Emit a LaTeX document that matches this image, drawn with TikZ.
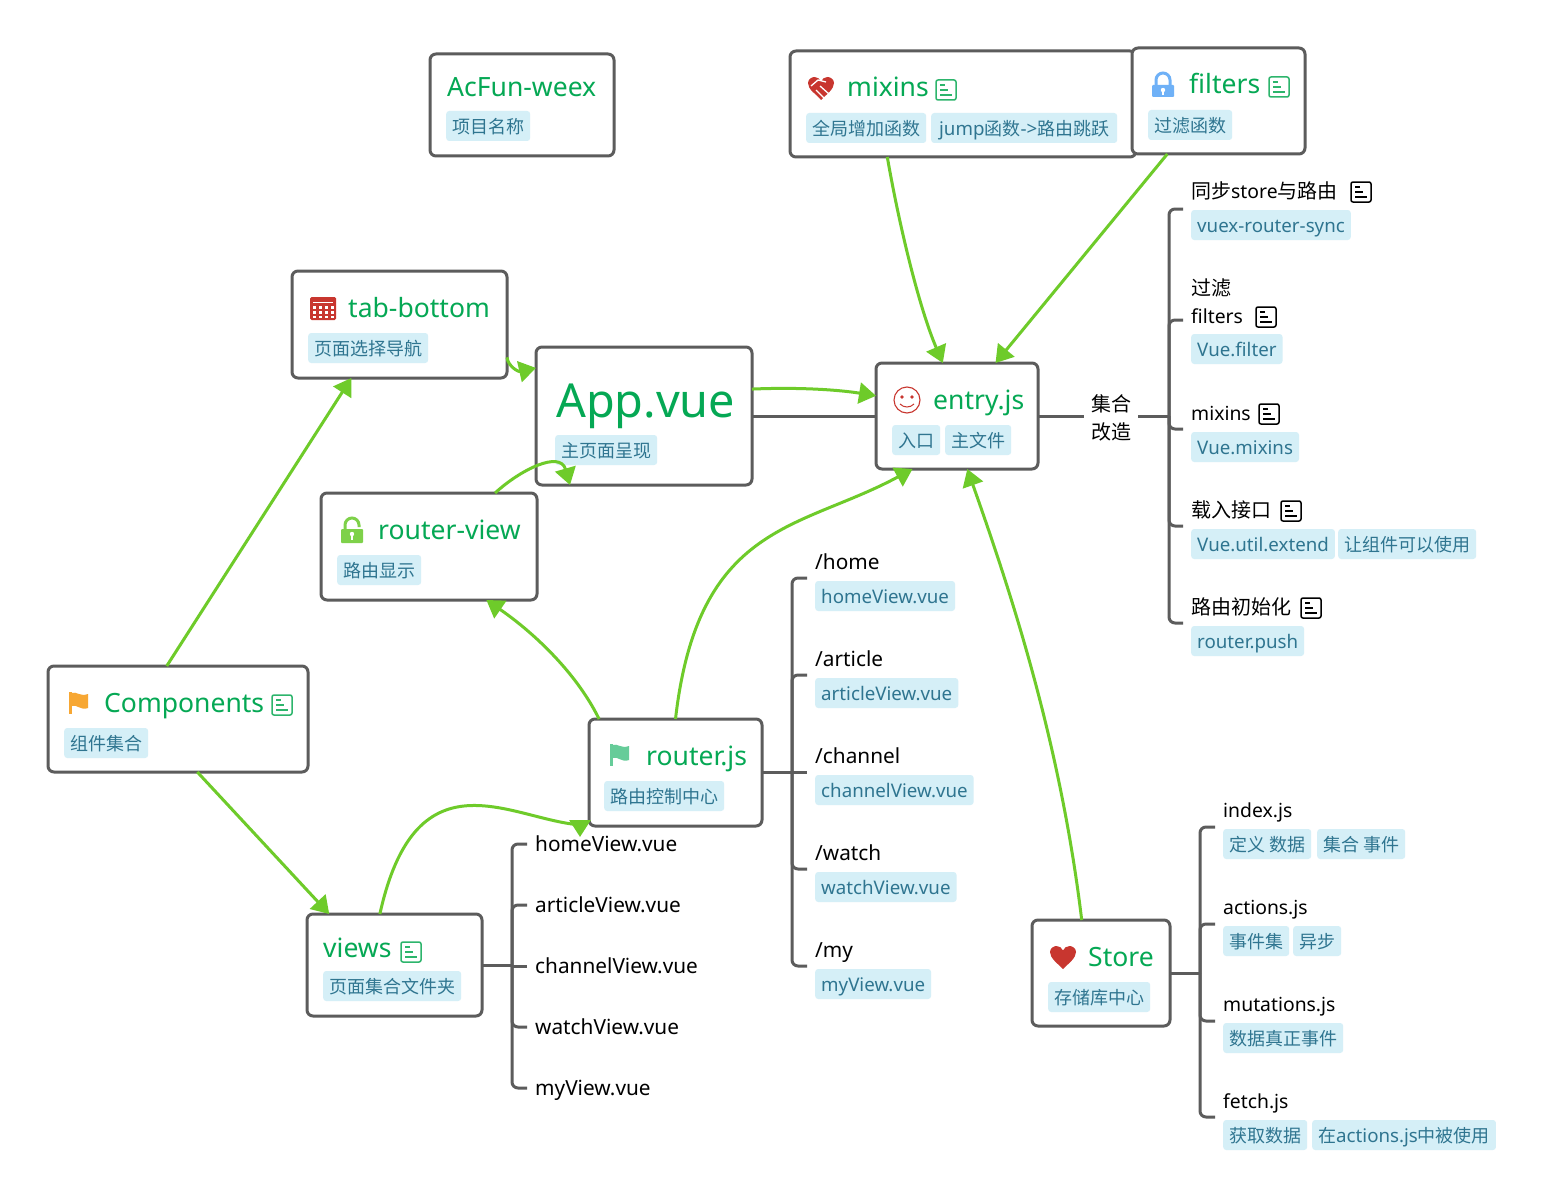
\documentclass[tikz,border=0pt]{standalone}
\usepackage{fontspec}
\usepackage{xcolor}
\setmainfont[Scale=1.04]{Noto Sans}
\newfontfamily\cjk{Noto Sans CJK SC}
\usetikzlibrary{arrows.meta}
\newcommand{\zh}[1]{{\cjk #1}}
\newcommand{\zhb}[1]{{\cjk\fontsize{20}{28}\selectfont #1}}
\definecolor{boxgray}{HTML}{5C5C5C}
\definecolor{linkgreen}{HTML}{6ECB2A}
\definecolor{titlegreen}{HTML}{05A854}
\definecolor{notegreen}{HTML}{2DB56C}
\definecolor{chipblue}{HTML}{D5EFF7}
\definecolor{chiptext}{HTML}{2F7590}
\definecolor{iconred}{HTML}{C8362F}
\definecolor{iconorange}{HTML}{F7A733}
\definecolor{iconteal}{HTML}{66CC99}
\definecolor{iconblue}{HTML}{6FB1F7}
\definecolor{iconlime}{HTML}{7ED14A}
\tikzset{
    topicbox/.style={draw=boxgray, fill=white, line width=3pt, rounded corners=6pt, inner sep=0pt, outer sep=0pt},
    title/.style={anchor=west, inner sep=0pt, text=titlegreen, text height=18pt, text depth=0pt, font=\fontsize{25.5}{30}\selectfont},
    chip/.style={anchor=west, fill=chipblue, text=chiptext, rounded corners=3pt, inner xsep=6pt, inner ysep=7.5pt, text height=15pt, text depth=0pt, font=\fontsize{18}{22}\selectfont},
    leaf/.style={anchor=west, inner xsep=8pt, inner ysep=0pt, text height=14pt, text depth=0pt, font=\fontsize{18.6}{28}\selectfont},
    wideleaf/.style={leaf, font=\fontsize{20}{28}\selectfont},
    branch/.style={draw=boxgray, line width=3pt, rounded corners=6pt},
    link/.style={draw=linkgreen, line width=3pt, -{Triangle[length=17pt,width=21pt]}},
    notemark/.pic={
        \draw[pic actions, line width=1.5pt, rounded corners=2pt] (-10,-10) rectangle (10,10);
        \draw[pic actions, line width=1.5pt] (-6,-5) -- (-1,-5) (-6,0) -- (2,0) (-6,5) -- (6,5);
    },
    heartmark/.pic={
        \fill[pic actions] (0,12) .. controls (-6,6) and (-13,1) .. (-13,-5) .. controls (-13,-9) and (-9,-11) .. (-6.5,-11)
            .. controls (-3.5,-11) and (-1,-9) .. (0,-6.5) .. controls (1,-9) and (3.5,-11) .. (6.5,-11)
            .. controls (9,-11) and (13,-9) .. (13,-5) .. controls (13,1) and (6,6) .. (0,12) -- cycle;
    },
    flagmark/.pic={
        \fill[pic actions] (-10,-11) rectangle (-7,11);
        \fill[pic actions] (-7,-10) .. controls (-3,-12) and (1,-6) .. (9,-9) -- (9,5) .. controls (2,8) and (-2,1) .. (-7,3) -- cycle;
    },
}

\begin{document}
\begin{tikzpicture}[x=1pt, y=-1pt]
    \useasboundingbox[fill=white] (0,0) rectangle (1561,1204);

    % topic boxes
    \node[topicbox, minimum width=184pt, minimum height=102pt] (acfun) at (522,105) {};
    \node[topicbox, minimum width=346pt, minimum height=106pt] (mixins) at (963,104) {};
    \node[topicbox, minimum width=173pt, minimum height=106pt] (filters) at (1218.5,101) {};
    \node[topicbox, minimum width=215pt, minimum height=107pt] (tabbar) at (399.5,324.5) {};
    \node[topicbox, minimum width=216pt, minimum height=138pt] (appvue) at (644,416) {};
    \node[topicbox, minimum width=162pt, minimum height=106pt] (entry) at (957,416) {};
    \node[topicbox, minimum width=216pt, minimum height=107pt] (rview) at (429,546.5) {};
    \node[topicbox, minimum width=260pt, minimum height=106pt] (comps) at (178,719) {};
    \node[topicbox, minimum width=173pt, minimum height=107pt] (rjs) at (675.5,772.5) {};
    \node[topicbox, minimum width=175pt, minimum height=102pt] (views) at (394.5,965) {};
    \node[topicbox, minimum width=138pt, minimum height=106pt] (store) at (1101,973) {};

    % titles and chips in the boxes
    \node[title] (acfuntitle) at (447,88) {AcFun-weex};
    \node[chip] (acfunchip) at (446,126) {\zh{项目名称}};

    \node[title] (mixinstitle) at (847,88) {mixins};
    \node[chip] (mixinschipa) at (806,128) {\zh{全局增加函数}};
    \node[chip, minimum width=186pt] (mixinschipb) at (931,128) {jump\zh{函数}->\zh{路由跳跃}};

    \node[title] (filterstitle) at (1189,85) {filters};
    \node[chip] (filterschip) at (1148,125) {\zh{过滤函数}};

    \node[title] (tabtitle) at (348,308) {tab-bottom};
    \node[chip] (tabchip) at (308,348) {\zh{页面选择导航}};

    \node[title, text height=34pt, font=\fontsize{45}{50}\selectfont] (apptitle) at (556,400) {App.vue};
    \node[chip] (appchip) at (555,450) {\zh{主页面呈现}};

    \node[title] (entrytitle) at (933,400) {entry.js};
    \node[chip] (entrychipa) at (892,440) {\zh{入口}};
    \node[chip] (entrychipb) at (945,440) {\zh{主文件}};

    \node[title] (rviewtitle) at (378,530) {router-view};
    \node[chip] (rviewchip) at (337,570) {\zh{路由显示}};

    \node[title] (compstitle) at (104,703) {Components};
    \node[chip] (compschip) at (64,743) {\zh{组件集合}};

    \node[title] (rjstitle) at (646,756) {router.js};
    \node[chip] (rjschip) at (604,796) {\zh{路由控制中心}};

    \node[title] (viewstitle) at (323,948) {views};
    \node[chip] (viewschip) at (323,986) {\zh{页面集合文件夹}};

    \node[title] (storetitle) at (1088,957) {Store};
    \node[chip] (storechip) at (1048,997) {\zh{存储库中心}};

    % icons
    \pic[draw=notegreen] at (946,90) {notemark};
    \pic[draw=notegreen] at (1279,87) {notemark};
    \pic[draw=notegreen] at (282,705) {notemark};
    \pic[draw=notegreen] at (411,952) {notemark};
    \pic[draw=black] at (1361,192) {notemark};
    \pic[draw=black] at (1266,317) {notemark};
    \pic[draw=black] at (1269,414) {notemark};
    \pic[draw=black] at (1291,511) {notemark};
    \pic[draw=black] at (1311,608) {notemark};

    \pic[fill=iconred] at (1063,957) {heartmark};
    \pic[fill=iconred] at (821,88) {heartmark};
    \draw[white, line width=1.3pt] (811,86) -- (818,80) -- (826,82) (816,90) -- (824,98) (820,86) -- (829,94) (813,93) -- (820,100);
    \pic[fill=iconorange] at (79,703) {flagmark};
    \pic[fill=iconteal] at (620,755) {flagmark};

    % closed lock
    \draw[iconblue, line width=3pt] (1156,86) -- (1156,80) arc (180:360:7) -- (1170,86);
    \fill[iconblue, rounded corners=1pt] (1152,85) rectangle (1174,97);
    \fill[white] (1163,90) circle (2.2pt);
    \fill[white] (1162,90) rectangle (1164,95);
    % open lock
    \draw[iconlime, line width=3pt] (345,530) -- (345,525) arc (180:360:7) -- (359,527);
    \fill[iconlime, rounded corners=1pt] (341,529) rectangle (363,543);
    \fill[white] (352,534) circle (2.2pt);
    \fill[white] (351,534) rectangle (353,540);
    % calendar
    \fill[iconred, rounded corners=1.5pt] (310,297) rectangle (336,320);
    \fill[white] (313,302) rectangle (333,303);
    \foreach \cx in {313,319,325,331}{
        \fill[white] (\cx,305.5) rectangle ++(2.8,3);
        \fill[white] (\cx,310.5) rectangle ++(2.8,3);
        \fill[white] (\cx,315.5) rectangle ++(2.8,2.5);
    }
    % smiley
    \draw[iconred, line width=1.1pt] (907,400) circle (13pt);
    \fill[iconred] (902,397) circle (1.8pt) (912,397) circle (1.8pt);
    \draw[iconred, line width=1pt] (900,404) .. controls (904,408) and (910,408) .. (914,404);

    % entry branches
    \node[inner xsep=7pt, inner ysep=0pt, align=center, font=\fontsize{20}{28}\selectfont] (gather) at (1111,418) {\zhb{集合}\\\zhb{改造}};
    \node[leaf] (synctitle) at (1183,191) {\zhb{同步}store\zhb{与路由}};
    \node[chip] (syncchip) at (1191,225) {vuex-router-sync};
    \node[anchor=west, inner xsep=8pt, inner ysep=0pt, align=left, font=\fontsize{18.6}{28}\selectfont] (filtertitle) at (1183,301) {\zhb{过滤}\\filters};
    \node[chip] (filterchip) at (1191,349) {Vue.filter};
    \node[leaf] (mixintitle) at (1183,413) {mixins};
    \node[chip] (mixinchip) at (1191,447) {Vue.mixins};
    \node[leaf] (loadtitle) at (1183,510) {\zhb{载入接口}};
    \node[chip] (loadchipa) at (1191,544) {Vue.util.extend};
    \node[chip] (loadchipb) at (1338,544) {\zh{让组件可以使用}};
    \node[leaf] (inittitle) at (1183,607) {\zhb{路由初始化}};
    \node[chip] (initchip) at (1191,641) {router.push};

    \coordinate (entrytrunk) at (1169,416);
    \coordinate (syncend) at (1183,209);
    \coordinate (filterend) at (1183,320);
    \coordinate (mixinend) at (1183,429);
    \coordinate (loadend) at (1183,526);
    \coordinate (initend) at (1183,623);
    \draw[branch] (appvue.east) -- (entry.west);
    \draw[branch] (entry.east) -- (gather.west |- entry.east);
    \draw[branch] (gather.east |- entrytrunk) -- (entrytrunk);
    \draw[branch] (syncend) -| (entrytrunk) |- (initend);
    \draw[branch] (filterend) -| (entrytrunk);
    \draw[branch] (mixinend) -| (entrytrunk);
    \draw[branch] (loadend) -| (entrytrunk);

    % router branches
    \node[wideleaf] (hometitle) at (807,562) {/home};
    \node[chip] (homechip) at (815,596) {homeView.vue};
    \node[wideleaf] (articletitle) at (807,659) {/article};
    \node[chip] (articlechip) at (815,693) {articleView.vue};
    \node[wideleaf] (channeltitle) at (807,756) {/channel};
    \node[chip] (channelchip) at (815,790) {channelView.vue};
    \node[wideleaf] (watchtitle) at (807,853) {/watch};
    \node[chip] (watchchip) at (815,887) {watchView.vue};
    \node[wideleaf] (mytitle) at (807,950) {/my};
    \node[chip] (mychip) at (815,984) {myView.vue};

    \coordinate (rjstrunk) at (792,772.5);
    \coordinate (homeend) at (807,578);
    \coordinate (articleend) at (807,675);
    \coordinate (channelend) at (807,772.5);
    \coordinate (watchend) at (807,869);
    \coordinate (myend) at (807,966);
    \draw[branch] (rjs.east) -- (channelend);
    \draw[branch] (homeend) -| (rjstrunk) |- (myend);
    \draw[branch] (articleend) -| (rjstrunk);
    \draw[branch] (watchend) -| (rjstrunk);

    % views branches
    \node[wideleaf] (homeview) at (527,844) {homeView.vue};
    \node[wideleaf] (articleview) at (527,905) {articleView.vue};
    \node[wideleaf] (channelview) at (527,966) {channelView.vue};
    \node[wideleaf] (watchview) at (527,1027) {watchView.vue};
    \node[wideleaf] (myview) at (527,1088) {myView.vue};

    \coordinate (viewstrunk) at (512,966);
    \draw[branch] (views.east) -- (views.east -| viewstrunk);
    \draw[branch] (homeview.west) -| (viewstrunk) |- (myview.west);
    \draw[branch] (articleview.west) -| (viewstrunk);
    \draw[branch] (channelview.west) -- (viewstrunk);
    \draw[branch] (watchview.west) -| (viewstrunk);

    % store branches
    \node[leaf] (indextitle) at (1215,810) {index.js};
    \node[chip] (indexchipa) at (1223,844) {\zh{定义 数据}};
    \node[chip] (indexchipb) at (1317,844) {\zh{集合 事件}};
    \node[leaf] (actiontitle) at (1215,907) {actions.js};
    \node[chip] (actionchipa) at (1223,941) {\zh{事件集}};
    \node[chip] (actionchipb) at (1293,941) {\zh{异步}};
    \node[leaf] (mutatetitle) at (1215,1004) {mutations.js};
    \node[chip] (mutatechip) at (1223,1038) {\zh{数据真正事件}};
    \node[leaf] (fetchtitle) at (1215,1101) {fetch.js};
    \node[chip] (fetchchipa) at (1223,1135) {\zh{获取数据}};
    \node[chip] (fetchchipb) at (1312,1135) {\zh{在}actions.js\zh{中被使用}};

    \coordinate (storetrunk) at (1200,973);
    \coordinate (indexend) at (1215,827);
    \coordinate (actionend) at (1215,924);
    \coordinate (mutateend) at (1215,1021);
    \coordinate (fetchend) at (1215,1117);
    \draw[branch] (store.east) -- (storetrunk);
    \draw[branch] (indexend) -| (storetrunk) |- (fetchend);
    \draw[branch] (actionend) -| (storetrunk);
    \draw[branch] (mutateend) -| (storetrunk);

    % green links
    \coordinate (rjstip) at (580,837);
    \draw[link] (comps.102.8) -- (tabbar.228.9);
    \draw[link] (comps.-70) -- (views.142.4);
    \draw[link] (views.106.6) .. controls (415,755) and (505,815) .. (572,824) .. controls (577,825) and (580,826) .. (rjstip);
    \draw[link] (rjs.145.6) .. controls (575,670) and (530,630) .. (rview.-43.2);
    \draw[link] (rjs.90.5) .. controls (698,522) and (800,530) .. (entry.230);
    \draw[link] (store.110) .. controls (1060,740) and (1010,590) .. (entry.281);
    \draw[link] (mixins.215.5) .. controls (900,230) and (920,310) .. (entry.105.5);
    \draw[link] (filters.226) -- (entry.54);
    \draw[link] (appvue.14.3) .. controls (800,387) and (840,390) .. (entry.166);
    \draw[link] (tabbar.-17.3) .. controls (508,366) and (518,372) .. (appvue.156);
    \draw[link] (rview.39) .. controls (520,470) and (560,450) .. (appvue.223.8);
\end{tikzpicture}
\end{document}
